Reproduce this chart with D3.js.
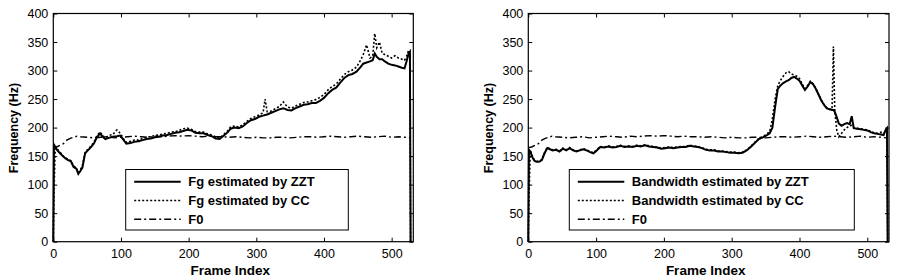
<!DOCTYPE html>
<html>
<head>
<meta charset="utf-8">
<script src="https://cdn.jsdelivr.net/npm/d3@7"></script>
<style>
  body { margin: 0; background: #fff; }
  svg { display: block; }
  .tick text { font-family: "Liberation Sans", Arial, sans-serif; font-size: 12.5px; fill: #000; }
</style>
</head>
<body>
<div id="chart"></div>
<script>
// frame grid + values (Fg)
const leftFrames = [0,1,3,6,10,14,18,22,26,30, 34,37,40,43,47,51,55,60,64,69,
  73,77,82,88,94,99,104,108,114,120, 126,132,138,144,150,156,162,168,174,180,
  186,192,198,204,210,216,222,228,234,240, 246,252,258,262,268,274,280,286,292,298,
  304,310,313,316,322,328,334,340,346,352, 358,364,370,376,382,388,394,400,406,412,
  418,424,430,436,442,448,454,458,463,468, 472,475,478,482,486,490,495,500,505,510,
  515,519,522,525,527,528];

const fgZZT = [0,170,166,160,155,150,146,143,141,131, 128,119,124,130,155,160,165,172,182,190,
  184,180,182,184,185,186,178,172,173,175, 176,178,180,181,183,184,186,187,189,191,
  192,194,196,195,191,190,190,187,185,181, 180,186,192,198,200,199,202,208,213,215,
  219,221,222,223,226,229,232,234,231,230, 234,237,240,241,243,243,247,252,260,266,
  270,279,287,292,294,298,306,312,314,316, 318,330,324,320,320,316,312,310,309,307,
  305,304,316,330,333,0];

const fgCC = [0,88,168,162,157,151,147,144,142,133, 129,121,126,133,156,162,167,174,185,192,
  186,182,186,188,196,190,180,174,176,178, 178,181,183,184,186,187,189,190,192,193,
  195,198,199,197,193,192,192,189,187,184, 182,188,195,201,203,201,205,211,216,219,
  222,226,250,228,229,233,237,245,236,234, 238,241,244,245,247,249,253,258,266,272,
  276,285,293,298,301,306,318,328,345,322, 325,365,340,350,330,328,325,322,326,322,
  320,318,325,335,333,0];

// frame grid + values (bandwidth)
const rightFrames = [0,1,3,6,9,12,16,20,24,28, 32,36,41,46,51,56,61,66,71,76,
  81,86,91,96,101,106,112,118,124,130, 136,142,148,154,160,166,172,178,184,190,
  196,202,208,214,220,226,232,238,244,250, 256,262,268,274,280,286,292,298,304,310,
  316,322,328,334,340,346,352,356,360,364, 368,372,376,380,384,388,392,396,400,404,
  408,412,416,420,424,428,432,436,440,444, 448,450,452,455,458,462,466,470,474,477,
  480,485,490,495,500,505,510,515,520,524, 527,529,530];

const bwZZT = [0,161,158,148,142,140,140,143,155,164, 162,160,161,158,163,160,164,160,158,160,
  162,160,157,155,160,166,165,167,165,166, 168,166,167,166,168,167,169,167,166,165,
  163,164,165,164,165,166,166,168,167,166, 164,161,160,160,158,158,157,156,156,155,
  156,160,166,173,180,183,187,190,200,236, 268,274,278,281,283,287,289,286,282,274,
  266,272,280,276,268,258,248,240,234,232, 231,231,228,218,207,203,206,208,206,220,
  199,198,197,196,195,192,190,189,188,187, 196,199,0];

const bwCC = [0,80,160,150,143,141,141,144,156,165, 163,161,162,159,164,161,165,161,159,161,
  163,161,158,156,161,167,166,168,166,167, 169,167,168,167,169,168,170,168,167,166,
  164,165,166,165,166,167,167,169,168,167, 165,162,161,161,159,159,158,157,157,156,
  157,161,167,174,181,184,189,193,215,250, 274,283,290,296,298,294,292,290,286,276,
  268,274,281,277,269,259,249,241,235,233, 232,342,230,195,184,190,196,200,203,204,
  200,199,198,197,196,193,191,190,192,189, 194,199,0];

// pitch, same curve in both panels
const f0Frames = [0,5,10,15,20,25,30,35,40,50, 60,70,80,90,100,110,120,130,140,150,
  160,170,180,190,200,210,220,230,240,250, 260,270,280,290,300,310,320,330,340,350,
  360,370,380,390,400,410,420,430,440,450, 460,470,480,490,500,510,520,528];
const f0Values = [165,166,169,172,178,181,183,185,184,183, 182,183,184,182,183,184,185,184,183,185,
  184,185,186,185,186,185,184,185,184,184, 183,184,183,182,183,182,182,183,183,182,
  183,184,184,183,184,185,184,183,184,185, 184,183,184,185,183,184,183,182];

const xTicks = [0,100,200,300,400,500];
const yTicks = [0,50,100,150,200,250,300,350,400];

const svg = d3.select("#chart").append("svg")
  .attr("width", 906).attr("height", 279);

const styles = {
  solid:   {width: 2,   dash: null},
  dotted:  {width: 1.6, dash: "2,2"},
  dashdot: {width: 1.4, dash: "7,3,2,3"}
};

function drawPanel(p) {
  const x = d3.scaleLinear().domain([0, 532]).range([p.left, p.right]);
  const y = d3.scaleLinear().domain([0, 400]).range([241.7, 13.5]);
  const g = svg.append("g");

  // ticks pointing inward on all four sides
  g.append("g").attr("transform", "translate(0,241.7)")
    .call(d3.axisBottom(x).tickValues(xTicks).tickSize(-4).tickPadding(7))
    .call(a => a.select(".domain").remove());
  g.append("g").attr("transform", "translate(0,13.5)")
    .call(d3.axisTop(x).tickValues(xTicks).tickSize(-4).tickFormat(""))
    .call(a => a.select(".domain").remove());
  g.append("g").attr("transform", `translate(${p.left},0)`)
    .call(d3.axisLeft(y).tickValues(yTicks).tickSize(-4).tickPadding(5))
    .call(a => a.select(".domain").remove());
  g.append("g").attr("transform", `translate(${p.right},0)`)
    .call(d3.axisRight(y).tickValues(yTicks).tickSize(-4).tickFormat(""))
    .call(a => a.select(".domain").remove());
  g.selectAll(".tick line").attr("stroke", "#000");

  const line = d3.line().x(d => x(d[0])).y(d => y(d[1]));

  p.series.forEach(s => {
    const st = styles[s.style];
    g.append("path")
      .datum(s.frames.map((f, i) => [f, s.values[i]]))
      .attr("d", line)
      .attr("fill", "none")
      .attr("stroke", "#000")
      .attr("stroke-width", st.width)
      .attr("stroke-dasharray", st.dash);
  });

  g.append("rect")
    .attr("x", p.left).attr("y", 13.5)
    .attr("width", p.right - p.left).attr("height", 241.7 - 13.5)
    .attr("fill", "none").attr("stroke", "#000").attr("stroke-width", 1.2);

  // legend
  const lg = g.append("g");
  lg.append("rect")
    .attr("x", p.legend.x).attr("y", 169.5)
    .attr("width", p.legend.w).attr("height", 60.5)
    .attr("fill", "#fff").attr("stroke", "#000").attr("stroke-width", 1);
  p.series.forEach((s, i) => {
    const st = styles[s.style];
    const yy = 181.7 + i * 18.8;
    lg.append("line")
      .attr("x1", p.legend.x + 8.5).attr("x2", p.legend.x + 55)
      .attr("y1", yy).attr("y2", yy)
      .attr("stroke", "#000").attr("stroke-width", st.width)
      .attr("stroke-dasharray", st.dash);
    lg.append("text")
      .attr("x", p.legend.x + 62.5).attr("y", yy + 4.6)
      .style("font-family", "'Liberation Sans', Arial, sans-serif")
      .style("font-size", "13px").style("font-weight", "bold")
      .text(s.name);
  });

  // axis titles
  g.append("text")
    .attr("x", (p.left + p.right) / 2 - 3).attr("y", 275)
    .attr("text-anchor", "middle")
    .style("font-family", "'Liberation Sans', Arial, sans-serif")
    .style("font-size", "13.5px").style("font-weight", "bold")
    .text("Frame Index");
  g.append("text")
    .attr("transform", `translate(${p.left - 35},128) rotate(-90)`)
    .attr("text-anchor", "middle")
    .style("font-family", "'Liberation Sans', Arial, sans-serif")
    .style("font-size", "12.5px").style("font-weight", "bold")
    .text("Frequency (Hz)");
}

drawPanel({
  left: 53.3, right: 413.3,
  legend: {x: 125.7, w: 222.6},
  series: [
    {name: "Fg estimated by ZZT", frames: leftFrames, values: fgZZT, style: "solid"},
    {name: "Fg estimated by CC", frames: leftFrames, values: fgCC, style: "dotted"},
    {name: "F0", frames: f0Frames, values: f0Values, style: "dashdot"}
  ]
});

drawPanel({
  left: 528.3, right: 889,
  legend: {x: 569.3, w: 285},
  series: [
    {name: "Bandwidth estimated by ZZT", frames: rightFrames, values: bwZZT, style: "solid"},
    {name: "Bandwidth estimated by CC", frames: rightFrames, values: bwCC, style: "dotted"},
    {name: "F0", frames: f0Frames, values: f0Values, style: "dashdot"}
  ]
});
</script>
</body>
</html>
